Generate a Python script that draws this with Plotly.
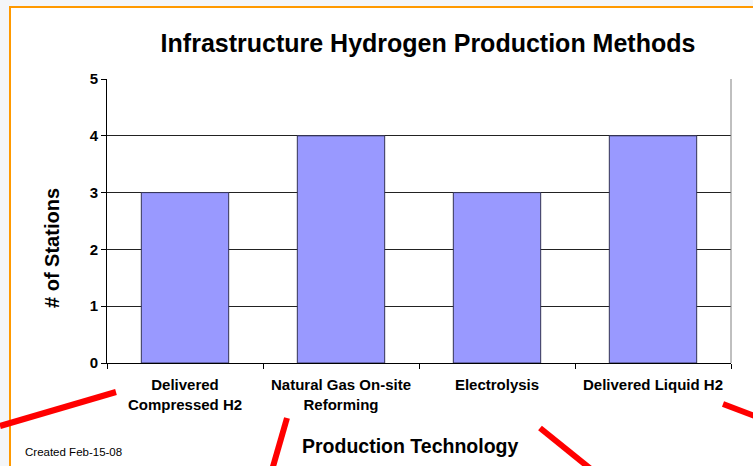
import plotly.graph_objects as go

# ---------------------------------------------------------------------------------------
# Données
# ---------------------------------------------------------------------------------------
categories = ['Delivered<br>Compressed H2', 'Natural Gas On-site<br>Reforming',
              'Electrolysis', 'Delivered Liquid H2']
stations = [3, 4, 3, 4]
y_ticks = [0, 1, 2, 3, 4, 5]

W, H = 753, 466
L, R, T, B = 107, 22, 79, 103
pw, ph = W - L - R, H - T - B


def px_x(x):
    return (x - L) / pw


def px_y(y):
    return (H - B - y) / ph


FONT = 'Liberation Sans, Arial, sans-serif'

fig = go.Figure(go.Bar(
    x=categories, y=stations,
    marker=dict(color='#9999ff', line=dict(color='#333355', width=1)),
    width=0.56,
))

# cadre orange façon diapo
shapes = [dict(type='rect', xref='paper', yref='paper', layer='below',
               x0=px_x(10), x1=px_x(770), y0=px_y(480), y1=px_y(7),
               fillcolor='white', line=dict(color='#ff9900', width=2))]
# bord gris à droite de la zone de tracé
shapes.append(dict(type='line', xref='paper', yref='paper', x0=1, x1=1, y0=0, y1=1,
                   line=dict(color='#808080', width=1)))
# traits rouges décoratifs
for (x0, y0, x1, y1) in [(0, 426, 116, 392), (287, 418, 272, 470),
                         (540, 428, 592, 470), (723, 404, 760, 418)]:
    shapes.append(dict(type='line', xref='paper', yref='paper',
                       x0=px_x(x0), y0=px_y(y0), x1=px_x(x1), y1=px_y(y1),
                       line=dict(color='#ff0000', width=6)))

fig.update_layout(
    width=W, height=H,
    margin=dict(l=L, r=R, t=T, b=B),
    paper_bgcolor='#f4f6f9',
    plot_bgcolor='white',
    showlegend=False,
    shapes=shapes,
    title=dict(text='Infrastructure Hydrogen Production Methods',
               font=dict(family=FONT, size=25, color='black', weight='bold'),
               x=428 / W, xanchor='center', y=1 - 43 / H, yanchor='middle'),
    annotations=[
        dict(text='Created Feb-15-08', xref='paper', yref='paper',
             x=px_x(23), y=px_y(452), xanchor='left', yanchor='middle',
             showarrow=False, font=dict(family=FONT, size=11.5, color='black')),
        dict(text='# of Stations', xref='paper', yref='paper', textangle=-90,
             x=px_x(52), y=px_y(248), xanchor='center', yanchor='middle',
             showarrow=False, font=dict(family=FONT, size=20, color='black', weight='bold')),
        dict(text='Production Technology', xref='paper', yref='paper',
             x=px_x(410), y=px_y(446), xanchor='center', yanchor='middle',
             showarrow=False, font=dict(family=FONT, size=19.5, color='black', weight='bold')),
    ],
)

fig.update_yaxes(
    range=[0, 5], tickvals=y_ticks, showgrid=True, gridcolor='#222222', gridwidth=1,
    showline=True, linecolor='black', linewidth=1, ticks='outside', ticklen=5,
    tickcolor='black', zeroline=False,
    tickfont=dict(family=FONT, size=15, color='black', weight='bold'),
)
fig.update_xaxes(
    showline=True, linecolor='black', linewidth=1, ticks='outside', ticklen=5,
    tickcolor='black', tickson='boundaries', showgrid=False, ticklabelstandoff=8,
    tickfont=dict(family=FONT, size=15, color='black', weight='bold'),
)

fig.write_html("out.html", config={'displayModeBar': False},
               post_script="document.body.style.margin='0px';")
